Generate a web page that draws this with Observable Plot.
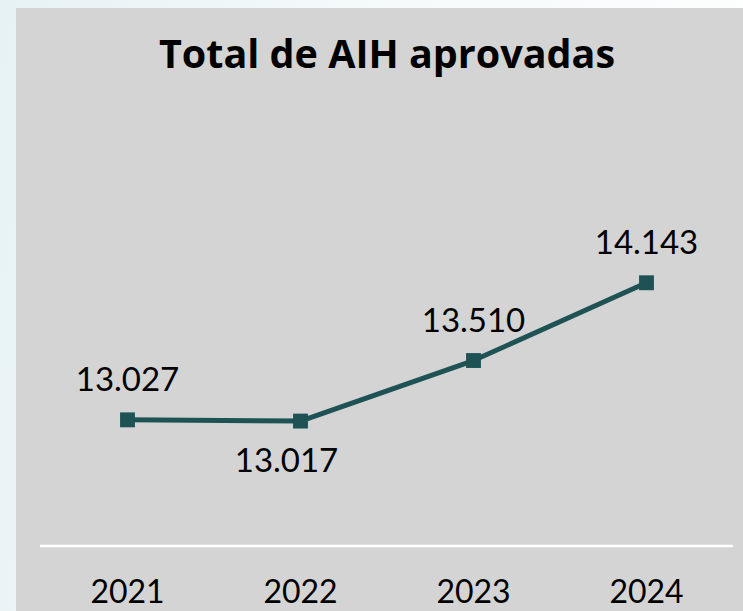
<!DOCTYPE html>
<html>
<head>
<meta charset="utf-8">
<script src="https://cdn.jsdelivr.net/npm/d3@7"></script>
<script src="https://cdn.jsdelivr.net/npm/@observablehq/plot@0.6"></script>
<style>
  html, body { margin: 0; padding: 0; width: 743px; height: 611px; overflow: hidden; }
  body { background: linear-gradient(100deg, #e6f2f4 0%, #f4f9fa 40%, #ffffff 100%); position: relative; font-family: Lato, "Open Sans", sans-serif; }
  #panel { position: absolute; left: 16px; top: 8px; width: 727px; height: 603px; background: #d4d4d4; }
  #title { position: absolute; left: 0; width: 742px; top: 26px; text-align: center; font-family: "Open Sans", Lato, sans-serif; font-size: 39.5px; line-height: 39.5px; font-weight: 700; color: #000; }
  #chart { position: absolute; left: 0; top: 0; }
</style>
</head>
<body>
<div id="panel">
  <div id="chart"></div>
  <div id="title">Total de AIH aprovadas</div>
</div>
<script>
const years = ["2021", "2022", "2023", "2024"];
const values = [13027, 13017, 13510, 14143];
const labels = ["13.027", "13.017", "13.510", "14.143"];
const labelAbove = [true, false, true, true];

const data = years.map((y, i) => ({year: y, value: values[i], label: labels[i], above: labelAbove[i]}));
const color = "#1e5254";

const chart = Plot.plot({
  width: 727,
  height: 603,
  marginLeft: 24,
  marginRight: 10,
  marginTop: 169,
  marginBottom: 65.5,
  style: {background: "transparent", fontFamily: "Lato, 'Open Sans', sans-serif", fontSize: "32px", color: "#000"},
  x: {type: "point", domain: years, padding: 0.5, label: null, tickSize: 0, tickPadding: 34},
  y: {domain: [12000, 15000], axis: null},
  marks: [
    Plot.ruleY([12000], {stroke: "#ffffff", strokeWidth: 2.5}),
    Plot.line(data, {x: "year", y: "value", stroke: color, strokeWidth: 5}),
    Plot.dot(data, {x: "year", y: "value", symbol: "square", r: 8.4, fill: color, stroke: null}),
    Plot.text(data.filter(d => d.above), {x: "year", y: "value", text: "label", dy: -39, fill: "#000", fontSize: 33, lineAnchor: "middle"}),
    Plot.text(data.filter(d => !d.above), {x: "year", y: "value", text: "label", dy: 40, dx: -14, fill: "#000", fontSize: 33, lineAnchor: "middle"})
  ]
});
document.getElementById("chart").appendChild(chart);
</script>
</body>
</html>
